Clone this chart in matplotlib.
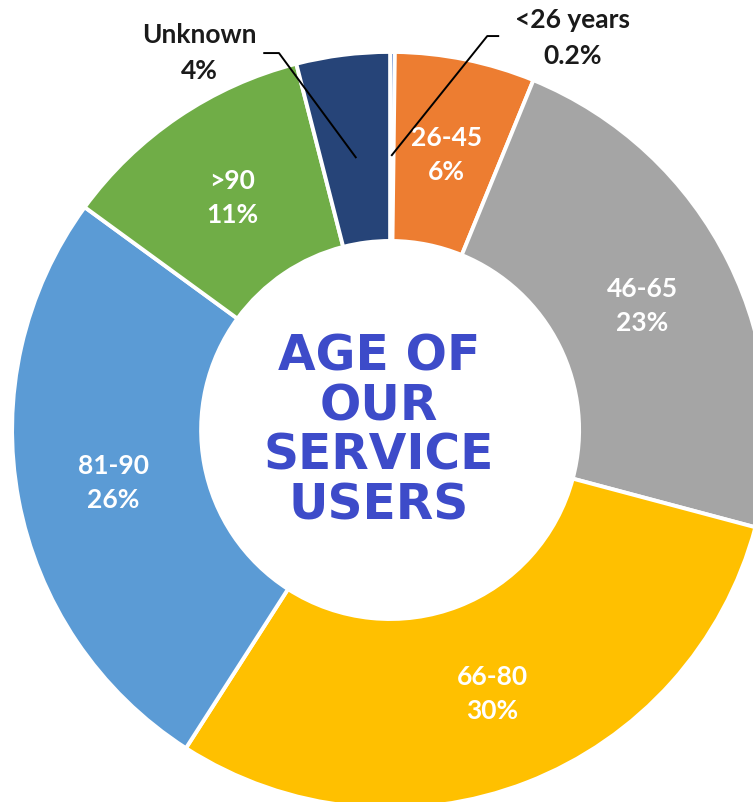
import matplotlib
matplotlib.use("Agg")
import matplotlib.pyplot as plt
import numpy as np

# dati
categories = ["<26 years", "26-45", "46-65", "66-80", "81-90", ">90", "Unknown"]
shares = [0.2, 6, 23, 30, 26, 11, 4]
share_labels = ["0.2%", "6%", "23%", "30%", "26%", "11%", "4%"]
colors = ["#4472C4", "#ED7D31", "#A5A5A5", "#FFC000", "#5B9BD5", "#70AD47", "#264478"]
outside = ["<26 years", "Unknown"]

label_font = ["Lato", "DejaVu Sans"]

fig = plt.figure(figsize=(7.53, 8.03), dpi=100)
ax = fig.add_axes([0, 0, 1, 1])

wedges, _ = ax.pie(shares, colors=colors, startangle=90, counterclock=False,
                   radius=1.0,
                   wedgeprops=dict(width=0.5, edgecolor="white", linewidth=2.8))

# etichette interne
for w, cat, lab in zip(wedges, categories, share_labels):
    if cat in outside:
        continue
    ang = np.deg2rad((w.theta1 + w.theta2) / 2)
    r = 0.745
    ax.text(r * np.cos(ang), r * np.sin(ang), f"{cat}\n{lab}", ha="center", va="center",
            color="white", fontsize=19, fontweight="bold", family=label_font, linespacing=1.5)

# etichette esterne con linee guida
callouts = {
    "Unknown": dict(knee=(-0.294, 0.997), tail=(-0.333, 0.997), text=(-0.505, 1.0)),
    "<26 years": dict(knee=(0.257, 1.042), tail=(0.286, 1.042), text=(0.482, 1.04)),
}
for w, cat, lab in zip(wedges, categories, share_labels):
    if cat not in outside:
        continue
    c = callouts[cat]
    ang = np.deg2rad((w.theta1 + w.theta2) / 2)
    end = (0.727 * np.cos(ang), 0.727 * np.sin(ang))
    ax.plot([end[0], c["knee"][0], c["tail"][0]], [end[1], c["knee"][1], c["tail"][1]],
            color="black", linewidth=1.4)
    ax.text(c["text"][0], c["text"][1], f"{cat}\n{lab}", ha="center", va="center",
            color="#1a1a1a", fontsize=19, fontweight="bold", family=label_font, linespacing=1.6)

# titolo al centro
ax.text(-0.03, 0.0, "AGE OF\nOUR\nSERVICE\nUSERS", ha="center", va="center",
        color="#3D4BC9", fontsize=35, fontweight="bold", family=["DejaVu Sans"], linespacing=1.05)

ax.set_xlim(-1.032, 0.960)
ax.set_ylim(-0.984, 1.140)
ax.set_aspect("auto")
ax.axis("off")

plt.savefig("out.png", dpi=100)
plt.close()
